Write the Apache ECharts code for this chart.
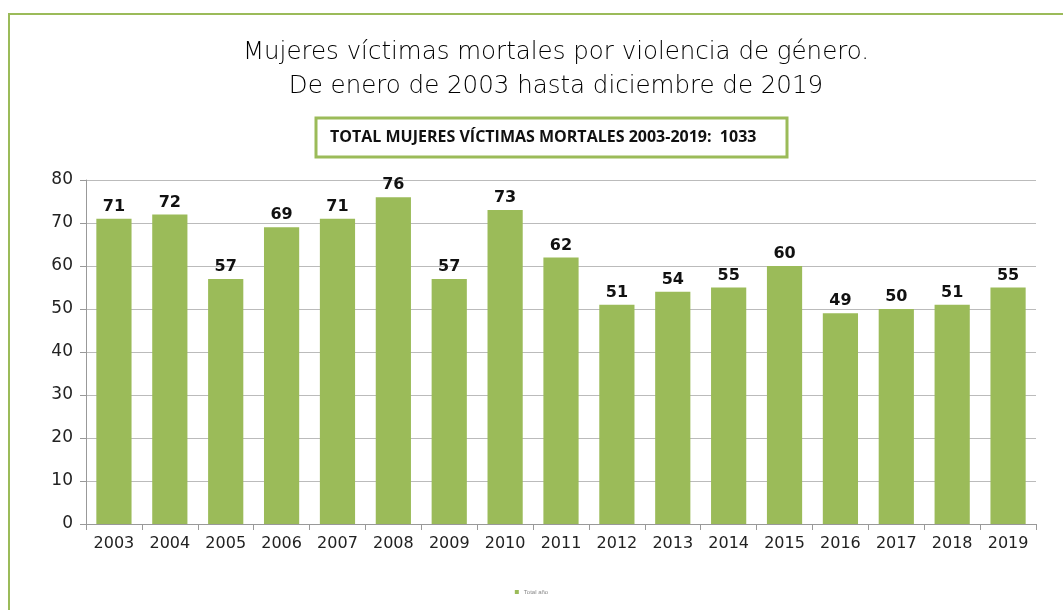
<!DOCTYPE html>
<html><head><meta charset="utf-8">
<script src="https://cdn.jsdelivr.net/npm/echarts@6/dist/echarts.min.js"></script>
<style>html,body{margin:0;padding:0;background:#fff}#c{width:1063px;height:610px}</style>
</head><body><div id="c"></div>
<script>
const years = ['2003','2004','2005','2006','2007','2008','2009','2010','2011','2012','2013','2014','2015','2016','2017','2018','2019'];
const victims = [71,72,57,69,71,76,57,73,62,51,54,55,60,49,50,51,55];
const yTicks = [0,10,20,30,40,50,60,70,80];
const seriesName = 'Total año';
const titleText = 'Mujeres víctimas mortales por violencia de género.\nDe enero de 2003 hasta diciembre de 2019';
const totalText = 'TOTAL MUJERES VÍCTIMAS MORTALES 2003-2019:  1033';

const green = '#9BBB59';
const chart = echarts.init(document.getElementById('c'));
chart.setOption({
  animation: false,
  graphic: [
    {type:'rect', shape:{x:9, y:14, width:1200, height:800}, style:{fill:'none', stroke:green, lineWidth:2}, silent:true},
    {type:'rect', shape:{x:316, y:118, width:471, height:39}, style:{fill:'#fff', stroke:green, lineWidth:3}, silent:true},
    {type:'text', x:330, y:137, style:{text: totalText, font:'bold 16px "Open Sans"', fill:'#111', verticalAlign:'middle'}}
  ],
  title: {
    text: titleText, top: 31, textAlign:'center',
    left: 551,
    textStyle: {fontFamily:'"DejaVu Sans"', fontWeight:200, fontSize:24.5, color:'#000', lineHeight:34}
  },
  legend: {
    bottom: 10, left: 'center', itemWidth:4, itemHeight:4, icon:'rect',
    textStyle:{fontSize:6, color:'#888'}, itemGap: 2,
    data:[seriesName]
  },
  grid: {left:86, right:27, top:180, bottom:86},
  xAxis: {
    type:'category', data: years,
    axisLine:{lineStyle:{color:'#999'}},
    axisTick:{show:true, length:6, lineStyle:{color:'#999'}},
    axisLabel:{color:'#222', fontSize:16, margin:12, fontFamily:'"DejaVu Sans"'}
  },
  yAxis: {
    type:'value', min:yTicks[0], max:yTicks[yTicks.length-1], interval:10,
    axisLine:{show:true, lineStyle:{color:'#999'}},
    axisTick:{show:true, length:6, lineStyle:{color:'#999'}},
    splitLine:{lineStyle:{color:'#bbb'}},
    axisLabel:{color:'#222', fontSize:17, margin:13, fontFamily:'"DejaVu Sans"'}
  },
  series: [{
    name: seriesName, type:'bar', data: victims, barWidth:'63%',
    itemStyle:{color:green},
    label:{show:true, position:'top', fontWeight:'bold', fontSize:16, color:'#111', distance:4, fontFamily:'"DejaVu Sans"'}
  }]
});
</script></body></html>
